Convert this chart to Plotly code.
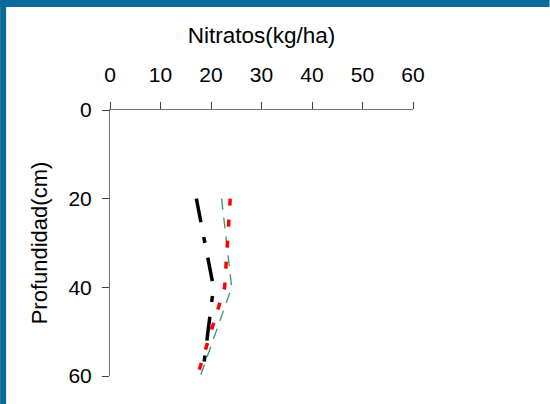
import plotly.graph_objects as go

# Data
depth_cm = [20, 40, 60]
series_black = [17.1, 20.5, 18.3]
series_red = [23.8, 22.7, 17.3]
series_green = [22.1, 24.1, 17.9]

x_ticks = [0, 10, 20, 30, 40, 50, 60]
y_ticks = [0, 20, 40, 60]

FONT = "Liberation Sans, Arial, sans-serif"
BORDER = "#0A6A9C"

fig = go.Figure()
fig.add_trace(go.Scatter(x=series_green, y=depth_cm, mode="lines",
                         line=dict(color="#339966", width=1.3, dash="11px,8px"),
                         showlegend=False))
fig.add_trace(go.Scatter(x=series_red, y=depth_cm, mode="lines",
                         line=dict(color="#FF0000", width=3.5, dash="7px,14px"),
                         showlegend=False))
fig.add_trace(go.Scatter(x=series_black, y=depth_cm, mode="lines",
                         line=dict(color="#000000", width=3.5, dash="24px,15px,6px,15px"),
                         showlegend=False))

W, H = 550, 404
L, R, T, B = 110, 550 - 413.3, 110, 404 - 376
pw = W - L - R
ph = H - T - B

fig.update_layout(
    width=W, height=H,
    margin=dict(l=L, r=R, t=T, b=B, pad=0),
    paper_bgcolor="white", plot_bgcolor="white",
    font=dict(family=FONT, size=21, color="black"),
    hovermode=False,
    xaxis=dict(
        side="top", range=[0, 60], tickvals=x_ticks, ticktext=[str(v) for v in x_ticks],
        showgrid=False, zeroline=False, showline=True, linecolor="#707070", linewidth=1,
        ticks="outside", ticklen=7, tickcolor="#404040", tickwidth=1,
        ticklabelstandoff=12,
        title=dict(text="Nitratos(kg/ha)", font=dict(size=22.5), standoff=12),
    ),
    yaxis=dict(
        range=[60, 0], tickvals=y_ticks, ticktext=[str(v) for v in y_ticks],
        showgrid=False, zeroline=False, showline=True, linecolor="#707070", linewidth=1,
        ticks="outside", ticklen=7, tickcolor="#404040", tickwidth=1,
        ticklabelstandoff=6,
        title=dict(text="Profundidad(cm)", font=dict(size=22), standoff=14),
    ),
    shapes=[
        dict(type="rect", xref="paper", yref="paper", layer="above",
             x0=-L / pw, x1=(W - L) / pw, y0=1 + (T - 7) / ph, y1=1 + T / ph,
             fillcolor=BORDER, line=dict(width=0)),
        dict(type="rect", xref="paper", yref="paper", layer="above",
             x0=-L / pw, x1=(6 - L) / pw, y0=-B / ph, y1=1 + T / ph,
             fillcolor=BORDER, line=dict(width=0)),
    ],
)

fig.write_html("out.html", config={"displayModeBar": False, "staticPlot": True},
               post_script="document.body.style.margin='0';document.body.style.overflow='hidden';")
